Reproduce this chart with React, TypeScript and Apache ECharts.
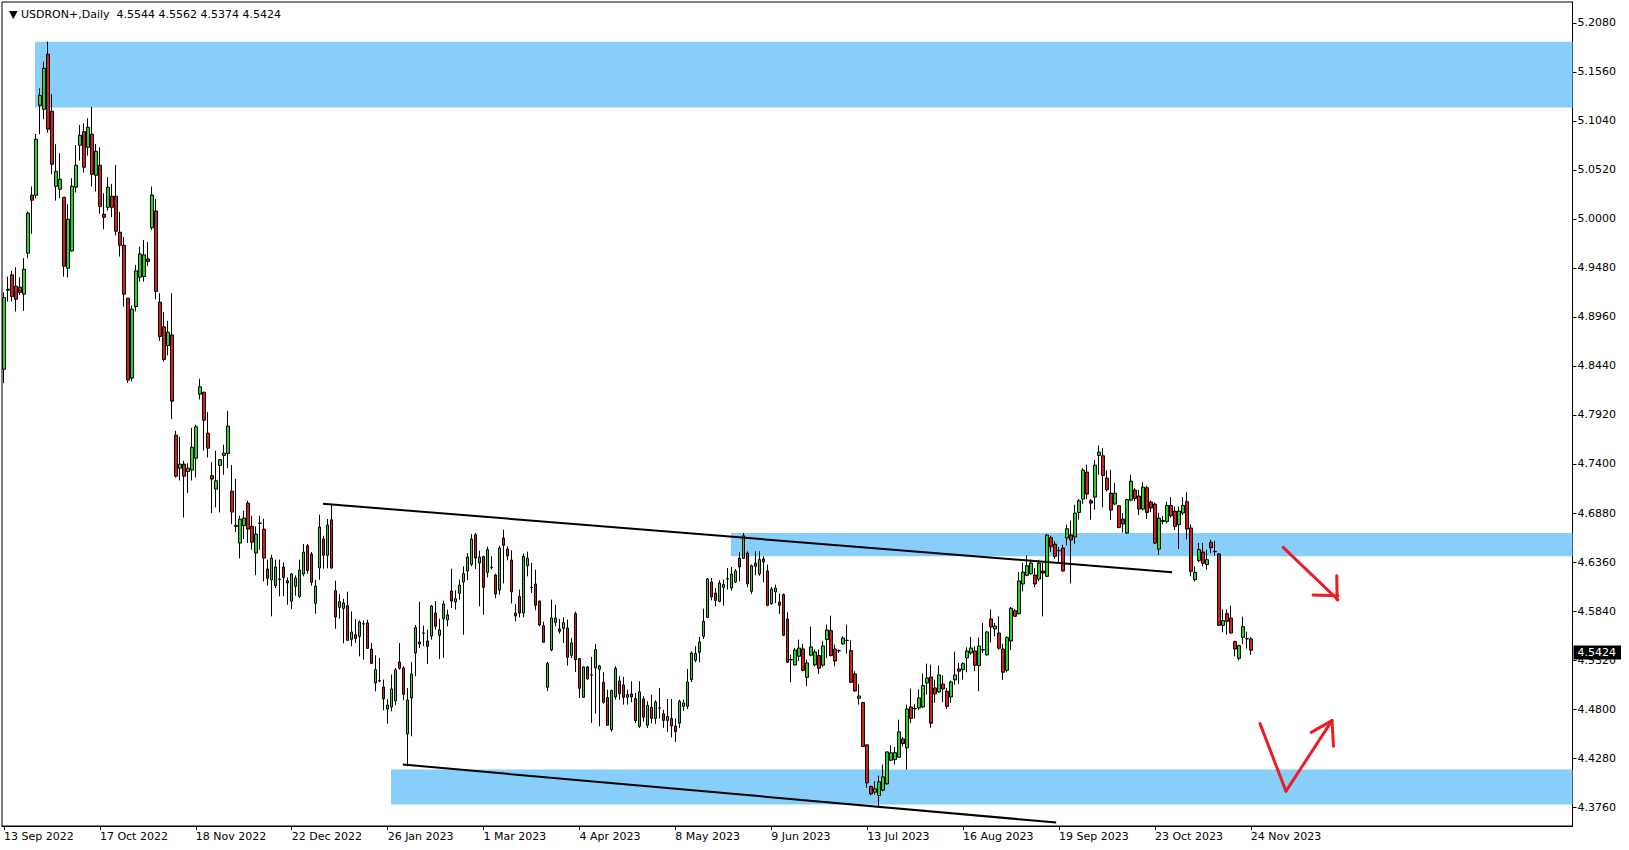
import React, { useEffect, useRef } from 'react';
import * as echarts from 'echarts';

// ---- text / labels ----
const symbolName = 'USDRON+';
const timeframe = 'Daily';
const xTickLabels = ['13 Sep 2022', '17 Oct 2022', '18 Nov 2022', '22 Dec 2022', '26 Jan 2023', '1 Mar 2023', '4 Apr 2023', '8 May 2023', '9 Jun 2023', '13 Jul 2023', '16 Aug 2023', '19 Sep 2023', '23 Oct 2023', '24 Nov 2023'];
const barsPerLabel = 24;
const yTickValues = [4.376, 4.428, 4.48, 4.532, 4.584, 4.636, 4.688, 4.74, 4.792, 4.844, 4.896, 4.948, 5.0, 5.052, 5.104, 5.156, 5.208];
const yMin = 4.3559;
const yMax = 5.2302;
const emptySlotsRight = 80;

// ---- daily candles [open, close, low, high], grouped by label period ----
const p13Sep2022 = [
  [4.8406, 4.9166, 4.8258, 4.9223], [4.9244, 4.9255, 4.9124, 4.9389], [4.9407, 4.9177, 4.9124, 4.9449], [4.9287, 4.9149, 4.9018, 4.9488],
  [4.9276, 4.9219, 4.9195, 4.9382], [4.9202, 4.9467, 4.9025, 4.9584], [4.9637, 5.0061, 4.9584, 5.0078], [5.0252, 5.0199, 4.9842, 5.0344],
  [5.0252, 5.0846, 5.022, 5.0902], [5.1206, 5.1312, 5.0899, 5.1386], [5.1164, 5.1598, 5.1058, 5.1669], [5.1747, 5.0952, 5.0916, 5.1881],
  [5.1142, 5.058, 5.0474, 5.1323], [5.0347, 5.0506, 5.0195, 5.0793], [5.0315, 5.0421, 5.022, 5.0697], [5.023, 4.9499, 4.9389, 5.023],
  [4.9477, 4.9997, 4.9379, 5.0156], [4.9661, 5.0347, 4.9654, 5.0432], [5.0337, 5.057, 5.028, 5.0785], [5.0782, 5.0888, 5.0619, 5.0998],
  [5.0927, 5.0549, 5.0492, 5.1015], [5.0761, 5.0973, 5.0672, 5.1068], [5.0899, 5.0474, 5.0344, 5.1188], [5.0464, 5.0718, 5.0291, 5.0796],
];
const p17Oct2022 = [
  [5.057, 5.0131, 5.0057, 5.0761], [5.005, 5.0018, 4.9891, 5.0273], [5.0124, 5.0337, 5.0089, 5.0443], [5.0241, 5.0124, 5.0018, 5.0372],
  [5.0241, 4.987, 4.9827, 5.0573], [4.9859, 4.9721, 4.9601, 5.0075], [4.9721, 4.9202, 4.9071, 4.981], [4.9159, 4.829, 4.8258, 4.9159],
  [4.8311, 4.9043, 4.8276, 4.9082], [4.9071, 4.9449, 4.9018, 4.9513], [4.9382, 4.9629, 4.9336, 4.9707], [4.9389, 4.9619, 4.9336, 4.9778],
  [4.9576, 4.9548, 4.9502, 4.9756], [4.9908, 5.0255, 4.9884, 5.0343], [5.0085, 4.923, 4.9148, 5.0213], [4.9117, 4.8753, 4.8707, 4.9212],
  [4.8855, 4.8509, 4.8487, 4.9011], [4.8657, 4.8799, 4.8551, 4.8919], [4.877, 4.8067, 4.7876, 4.9212], [4.7706, 4.7271, 4.7257, 4.7752],
  [4.7356, 4.7399, 4.7225, 4.7688], [4.7399, 4.7271, 4.6833, 4.7434], [4.7321, 4.7356, 4.7091, 4.7409], [4.7335, 4.7579, 4.7225, 4.7784],
];
const p18Nov2022 = [
  [4.7462, 4.7795, 4.7257, 4.7816], [4.8141, 4.8219, 4.8084, 4.8304], [4.8162, 4.7865, 4.7544, 4.8162], [4.7727, 4.7568, 4.7469, 4.795],
  [4.7275, 4.724, 4.6879, 4.742], [4.7134, 4.7222, 4.6939, 4.754], [4.7385, 4.7445, 4.6886, 4.7452], [4.7491, 4.7515, 4.7286, 4.7604],
  [4.7512, 4.7802, 4.7356, 4.7964], [4.7112, 4.689, 4.6762, 4.7388], [4.6748, 4.6738, 4.6678, 4.7243], [4.6561, 4.6815, 4.6398, 4.6851],
  [4.6745, 4.6826, 4.6603, 4.6904], [4.6985, 4.6709, 4.6561, 4.701], [4.6738, 4.6571, 4.649, 4.6851], [4.6455, 4.6656, 4.6221, 4.6738],
  [4.6773, 4.677, 4.649, 4.6851], [4.6709, 4.6402, 4.6154, 4.6819], [4.6286, 4.6187, 4.6109, 4.6385], [4.6169, 4.6402, 4.5784, 4.6438],
  [4.6109, 4.6307, 4.6084, 4.6385], [4.6176, 4.618, 4.5996, 4.6385], [4.6307, 4.6197, 4.5996, 4.6356], [4.6162, 4.6137, 4.5907, 4.6197],
];
const p22Dec2022 = [
  [4.5943, 4.6233, 4.5861, 4.6243], [4.6102, 4.619, 4.6003, 4.6218], [4.5996, 4.6275, 4.5978, 4.6385], [4.6233, 4.6466, 4.6208, 4.6551],
  [4.6533, 4.6271, 4.6236, 4.6551], [4.6445, 4.6144, 4.6109, 4.6466], [4.5922, 4.6105, 4.5812, 4.6172], [4.6296, 4.6731, 4.6172, 4.6862],
  [4.6604, 4.6431, 4.6289, 4.6639], [4.6431, 4.6752, 4.6293, 4.6816], [4.6809, 4.6296, 4.6289, 4.6978], [4.6056, 4.5777, 4.5653, 4.6162],
  [4.5879, 4.5939, 4.5759, 4.6021], [4.5868, 4.5925, 4.5497, 4.5971], [4.5897, 4.5529, 4.5529, 4.6045], [4.554, 4.5618, 4.5465, 4.5837],
  [4.5589, 4.555, 4.5501, 4.5755], [4.5572, 4.5724, 4.5359, 4.5741], [4.5702, 4.5705, 4.5324, 4.5738], [4.5713, 4.5444, 4.5437, 4.5748],
  [4.5437, 4.5285, 4.5278, 4.5501], [4.5077, 4.5218, 4.4988, 4.537], [4.5101, 4.5098, 4.5087, 4.5342], [4.5034, 4.4907, 4.4787, 4.5112],
];
const p26Jan2023 = [
  [4.4801, 4.4843, 4.4645, 4.4907], [4.4822, 4.5013, 4.4776, 4.5165], [4.4886, 4.5215, 4.484, 4.5236], [4.5299, 4.5232, 4.5218, 4.5501],
  [4.5236, 4.4957, 4.4893, 4.5253], [4.4536, 4.4896, 4.4193, 4.5024], [4.4918, 4.5172, 4.4511, 4.5299], [4.5395, 4.5664, 4.5147, 4.5692],
  [4.5512, 4.549, 4.5448, 4.5939], [4.5607, 4.5604, 4.5466, 4.5685], [4.5522, 4.5466, 4.5278, 4.5642], [4.5575, 4.5893, 4.5536, 4.5904],
  [4.5819, 4.5678, 4.5642, 4.5946], [4.5582, 4.5639, 4.5331, 4.5759], [4.5759, 4.5915, 4.5342, 4.595], [4.5745, 4.5798, 4.5678, 4.5854],
  [4.6052, 4.5946, 4.5872, 4.6289], [4.5936, 4.5971, 4.5854, 4.6059], [4.6028, 4.6116, 4.596, 4.6173], [4.6148, 4.6236, 4.5589, 4.6314],
  [4.6265, 4.6413, 4.6169, 4.6455], [4.6335, 4.6604, 4.6314, 4.6657], [4.665, 4.6402, 4.6286, 4.6667], [4.6349, 4.6413, 4.589, 4.648],
];
const p1Mar2023 = [
  [4.6417, 4.6091, 4.5801, 4.6427], [4.625, 4.6491, 4.6197, 4.6523], [4.6303, 4.63, 4.6279, 4.642], [4.6222, 4.6021, 4.5975, 4.6236],
  [4.6063, 4.6508, 4.6014, 4.6533], [4.6614, 4.6537, 4.6134, 4.6703], [4.6498, 4.6424, 4.6378, 4.6526], [4.6381, 4.6042, 4.592, 4.6484],
  [4.5819, 4.5787, 4.5731, 4.5915], [4.5993, 4.5819, 4.5773, 4.6067], [4.5819, 4.642, 4.5773, 4.645], [4.6321, 4.64, 4.6208, 4.647],
  [4.6092, 4.609, 4.6031, 4.635], [4.6127, 4.5901, 4.5848, 4.6279], [4.5947, 4.5692, 4.5678, 4.5947], [4.5685, 4.5508, 4.5508, 4.5727],
  [4.5031, 4.5282, 4.4989, 4.53], [4.5427, 4.5766, 4.5413, 4.5961], [4.572, 4.5766, 4.5678, 4.5908], [4.565, 4.5625, 4.56, 4.5756],
  [4.5657, 4.5717, 4.5501, 4.5773], [4.566, 4.5349, 4.5261, 4.5749], [4.537, 4.5501, 4.5342, 4.5554], [4.5812, 4.5324, 4.5194, 4.5834],
];
const p4Apr2023 = [
  [4.5335, 4.502, 4.4918, 4.5335], [4.4925, 4.5247, 4.4918, 4.5254], [4.5247, 4.5119, 4.5112, 4.5254], [4.5162, 4.516, 4.4653, 4.5353],
  [4.5236, 4.5431, 4.4752, 4.5491], [4.5222, 4.5257, 4.4617, 4.5268], [4.5081, 4.4872, 4.4858, 4.519], [4.4922, 4.4628, 4.4628, 4.5006],
  [4.4582, 4.4996, 4.456, 4.5006], [4.4929, 4.5229, 4.49, 4.5254], [4.5098, 4.4964, 4.49, 4.5148], [4.5056, 4.4925, 4.4847, 4.5141],
  [4.4925, 4.4953, 4.4847, 4.5006], [4.496, 4.4929, 4.4872, 4.5095], [4.4911, 4.4678, 4.4653, 4.4971], [4.4617, 4.4982, 4.46, 4.5095],
  [4.4907, 4.4713, 4.4667, 4.4936], [4.4628, 4.484, 4.46, 4.4883], [4.4819, 4.47, 4.465, 4.4953], [4.47, 4.4875, 4.464, 4.4893],
  [4.4812, 4.481, 4.47, 4.5024], [4.475, 4.468, 4.46, 4.479], [4.468, 4.472, 4.456, 4.4907], [4.47, 4.462, 4.45, 4.4907],
];
const p8May2023 = [
  [4.462, 4.456, 4.445, 4.47], [4.465, 4.4882, 4.46, 4.49], [4.4829, 4.4865, 4.478, 4.49], [4.4829, 4.5087, 4.48, 4.5225],
  [4.5112, 4.5395, 4.5087, 4.5413], [4.5317, 4.5388, 4.5296, 4.5466], [4.5402, 4.5512, 4.5296, 4.5565], [4.5572, 4.5731, 4.5543, 4.5865],
  [4.5773, 4.618, 4.5766, 4.619], [4.6148, 4.5989, 4.5953, 4.619], [4.6031, 4.5953, 4.589, 4.6084], [4.5943, 4.6137, 4.5932, 4.6166],
  [4.6091, 4.612, 4.5897, 4.6173], [4.6183, 4.618, 4.6067, 4.6296], [4.6084, 4.6233, 4.6056, 4.6307], [4.6148, 4.6265, 4.6137, 4.6286],
  [4.6402, 4.6307, 4.6155, 4.6466], [4.6399, 4.6639, 4.6392, 4.6668], [4.6455, 4.6127, 4.6091, 4.6473], [4.6049, 4.6321, 4.6021, 4.6332],
  [4.6349, 4.6314, 4.6219, 4.6473], [4.6233, 4.6385, 4.6215, 4.6473], [4.6392, 4.636, 4.6144, 4.642], [4.6265, 4.59, 4.589, 4.6332],
];
const p9Jun2023 = [
  [4.5918, 4.6074, 4.5908, 4.6095], [4.6042, 4.6084, 4.5925, 4.612], [4.5936, 4.5901, 4.5809, 4.6025], [4.6014, 4.5583, 4.5572, 4.6025],
  [4.5756, 4.5296, 4.5289, 4.5827], [4.5325, 4.5322, 4.5084, 4.5378], [4.5268, 4.5427, 4.5261, 4.5448], [4.536, 4.5448, 4.5307, 4.5537],
  [4.5438, 4.5211, 4.5201, 4.5491], [4.5137, 4.5289, 4.5042, 4.5325], [4.5371, 4.5459, 4.536, 4.5675], [4.5268, 4.5406, 4.5254, 4.5431],
  [4.5367, 4.5233, 4.5173, 4.5431], [4.5265, 4.547, 4.5247, 4.5519], [4.5537, 4.5639, 4.5342, 4.5696], [4.5632, 4.5367, 4.536, 4.5791],
  [4.5438, 4.531, 4.5254, 4.5484], [4.542, 4.5418, 4.5395, 4.5431], [4.5491, 4.5554, 4.5484, 4.5572], [4.553, 4.5527, 4.5388, 4.5696],
  [4.542, 4.5084, 4.5077, 4.553], [4.5173, 4.4992, 4.4985, 4.5201], [4.4915, 4.4939, 4.4847, 4.5067], [4.4869, 4.4402, 4.4398, 4.4869],
];
const p13Jul2023 = [
  [4.442, 4.4017, 4.3964, 4.442], [4.3978, 4.39, 4.3886, 4.3988], [4.3918, 4.3953, 4.3893, 4.4034], [4.3882, 4.4027, 4.3769, 4.4094],
  [4.3939, 4.408, 4.3928, 4.4211], [4.4006, 4.4345, 4.3999, 4.4352], [4.4257, 4.4335, 4.4246, 4.4416], [4.4264, 4.4338, 4.4211, 4.4398],
  [4.4289, 4.4558, 4.4282, 4.4688], [4.4483, 4.4434, 4.4405, 4.4504], [4.4388, 4.4801, 4.4158, 4.4847], [4.4822, 4.47, 4.465, 4.5017],
  [4.4805, 4.4803, 4.47, 4.485], [4.4812, 4.4918, 4.479, 4.5006], [4.4822, 4.5049, 4.4812, 4.5176], [4.5077, 4.513, 4.4953, 4.5282],
  [4.514, 4.465, 4.46, 4.5271], [4.5024, 4.496, 4.4865, 4.5112], [4.4981, 4.5162, 4.4971, 4.5261], [4.5066, 4.5013, 4.4872, 4.5158],
  [4.4988, 4.4829, 4.4801, 4.5024], [4.4928, 4.5087, 4.4865, 4.5102], [4.5109, 4.5162, 4.5059, 4.5409], [4.5225, 4.5201, 4.5066, 4.5289],
];
const p16Aug2023 = [
  [4.5218, 4.5282, 4.5112, 4.5296], [4.5342, 4.5416, 4.519, 4.5455], [4.5395, 4.5448, 4.5377, 4.5565], [4.5416, 4.5264, 4.5201, 4.5466],
  [4.5261, 4.5469, 4.4988, 4.5558], [4.5427, 4.543, 4.5395, 4.5713], [4.5374, 4.5618, 4.537, 4.5625], [4.5756, 4.5671, 4.5508, 4.5855],
  [4.565, 4.5681, 4.5572, 4.5713], [4.5607, 4.5445, 4.543, 4.5784], [4.5437, 4.519, 4.5109, 4.5494], [4.5211, 4.5558, 4.519, 4.5572],
  [4.5522, 4.5869, 4.5427, 4.5883], [4.5844, 4.5784, 4.5777, 4.5862], [4.5812, 4.6159, 4.5802, 4.6254], [4.6127, 4.6254, 4.6049, 4.6349],
  [4.6219, 4.6321, 4.6208, 4.6431], [4.6236, 4.6349, 4.6226, 4.6385], [4.6222, 4.6127, 4.6095, 4.6296], [4.6179, 4.6349, 4.6155, 4.6384],
  [4.6264, 4.6243, 4.5783, 4.6349], [4.6208, 4.6646, 4.6201, 4.6657], [4.6618, 4.6526, 4.6466, 4.6639], [4.655, 4.642, 4.6395, 4.6579],
];
const p19Sep2023 = [
  [4.6483, 4.648, 4.6349, 4.6519], [4.6508, 4.6264, 4.6261, 4.6543], [4.6614, 4.6713, 4.6536, 4.6756], [4.6646, 4.6593, 4.6133, 4.6801],
  [4.6625, 4.6879, 4.6554, 4.6968], [4.6886, 4.701, 4.6809, 4.7028], [4.7028, 4.7335, 4.6978, 4.7356], [4.7314, 4.7081, 4.7028, 4.7392],
  [4.701, 4.6985, 4.6809, 4.7028], [4.7049, 4.7388, 4.6915, 4.7445], [4.7491, 4.7526, 4.7286, 4.7597], [4.7487, 4.7279, 4.6939, 4.7569],
  [4.725, 4.7127, 4.7109, 4.7332], [4.7091, 4.6911, 4.6809, 4.7339], [4.6975, 4.7091, 4.6961, 4.7197], [4.6957, 4.6727, 4.6717, 4.6957],
  [4.6816, 4.6763, 4.6674, 4.6879], [4.6667, 4.7021, 4.666, 4.7031], [4.7017, 4.7219, 4.7003, 4.7286], [4.7123, 4.7035, 4.7003, 4.7144],
  [4.706, 4.6922, 4.6858, 4.7127], [4.6922, 4.7155, 4.6908, 4.7208], [4.7148, 4.6886, 4.6816, 4.7169], [4.6996, 4.6932, 4.689, 4.7014],
];
const p23Oct2023 = [
  [4.6975, 4.6561, 4.6551, 4.6992], [4.6497, 4.6826, 4.6438, 4.688], [4.68, 4.679, 4.676, 4.685], [4.679, 4.696, 4.677, 4.7],
  [4.696, 4.685, 4.683, 4.705], [4.69, 4.6738, 4.67, 4.695], [4.6756, 4.69, 4.6498, 4.695], [4.688, 4.696, 4.686, 4.705],
  [4.7, 4.671, 4.66, 4.71], [4.6721, 4.6261, 4.6208, 4.6756], [4.6173, 4.625, 4.6155, 4.6314], [4.6374, 4.6491, 4.636, 4.6562],
  [4.6466, 4.6346, 4.6314, 4.6562], [4.6332, 4.6385, 4.6279, 4.6491], [4.6569, 4.6512, 4.6455, 4.6597], [4.6473, 4.647, 4.6427, 4.6586],
  [4.6445, 4.5688, 4.5685, 4.6455], [4.5688, 4.5738, 4.5614, 4.5855], [4.5812, 4.5731, 4.5589, 4.5855], [4.5766, 4.5607, 4.56, 4.5897],
  [4.5515, 4.5437, 4.536, 4.5526], [4.5338, 4.5473, 4.5317, 4.5483], [4.5561, 4.5674, 4.549, 4.578], [4.5547, 4.5544, 4.5441, 4.5621],
];
const p24Nov2023 = [
  [4.5544, 4.5424, 4.5374, 4.5562],
];

// ---- drawn objects, in (bar index, price) ----
// zones: [startBar, endBar, topPrice, bottomPrice]
const zones = [
  [7.76, 392.5, 5.1881, 5.1183],
  [181.9, 392.5, 4.6668, 4.6421],
  [96.85, 392.5, 4.4158, 4.3787],
];
// trend lines: [bar0, price0, bar1, price1]
const trendLines = [
  [79.8, 4.6978, 292.3, 4.6252],
  [99.8, 4.4211, 263.3, 4.3596],
];
// hand-drawn red arrows: [bar0, price0, bar1, price1]
const arrowSegments = [
  [320.1, 4.6515, 333.8, 4.596],
  [327.6, 4.601, 333.8, 4.6003],
  [333.5, 4.6215, 333.6, 4.596],
  [314.3, 4.4645, 320.8, 4.3928],
  [320.8, 4.3928, 332.3, 4.4677],
  [327.1, 4.4553, 332.3, 4.4677],
  [332.3, 4.4677, 332.7, 4.4405],
];

const candles = [
  ...p13Sep2022, ...p17Oct2022, ...p18Nov2022, ...p22Dec2022, ...p26Jan2023, ...p1Mar2023, ...p4Apr2023,
  ...p8May2023, ...p9Jun2023, ...p13Jul2023, ...p16Aug2023, ...p19Sep2023, ...p23Oct2023, ...p24Nov2023,
];

const FONT = 'DejaVu Sans';

function toPixel(api: any, barIdx: number, price: number) {
  const a = api.coord([0, price]);
  const b = api.coord([1, price]);
  return [a[0] + (b[0] - a[0]) * barIdx, a[1]];
}

export default function App() {
  const ref = useRef<HTMLDivElement>(null);

  useEffect(() => {
    if (!ref.current) return;
    const chart = echarts.init(ref.current, undefined, { renderer: 'svg' });
    const total = candles.length + emptySlotsRight;
    const cats = Array.from({ length: total }, (_, i) => String(i));
    const last = candles[candles.length - 1];
    const lastClose = last[1];
    const showLabel = (i: number) => i % barsPerLabel === 0 && i / barsPerLabel < xTickLabels.length;

    chart.setOption({
      animation: false,
      backgroundColor: '#ffffff',
      title: {
        text: `\u25BC ${symbolName},${timeframe}  ${last[0].toFixed(4)} ${last[3].toFixed(4)} ${last[2].toFixed(4)} ${last[1].toFixed(4)}`,
        left: 4,
        top: 4,
        textStyle: { fontSize: 11, fontWeight: 'normal', fontFamily: FONT, color: '#000' },
      },
      grid: {
        left: 2,
        top: 2,
        width: 1570.5,
        height: 824,
        show: true,
        borderColor: '#000',
        borderWidth: 1,
        backgroundColor: '#fff',
      },
      xAxis: {
        type: 'category',
        data: cats,
        boundaryGap: true,
        axisLine: { show: true, lineStyle: { color: '#000', width: 1 } },
        axisTick: { show: true, alignWithLabel: true, interval: (i: number) => showLabel(i), length: 4, lineStyle: { color: '#000' } },
        axisLabel: {
          interval: (i: number) => showLabel(i),
          formatter: (_v: string, i: number) => xTickLabels[i / barsPerLabel] ?? '',
          align: 'left',
          margin: 5,
          color: '#000',
          fontSize: 11,
          fontFamily: FONT,
        },
        splitLine: { show: false },
      },
      yAxis: {
        type: 'value',
        position: 'right',
        min: yMin,
        max: yMax,
        scale: true,
        axisLine: { show: true, lineStyle: { color: '#000', width: 1 } },
        axisTick: { show: true, length: 4, customValues: yTickValues, lineStyle: { color: '#000' } },
        axisLabel: {
          customValues: yTickValues,
          formatter: (v: number) => v.toFixed(4),
          margin: 5,
          color: '#000',
          fontSize: 11,
          fontFamily: FONT,
        },
        splitLine: { show: false },
      },
      series: [
        {
          type: 'custom',
          name: 'zones',
          z: 1,
          clip: true,
          silent: true,
          data: zones.map((z) => [0, z[2]]),
          encode: { x: 0, y: 1 },
          renderItem: (params: any, api: any) => {
            const z = zones[params.dataIndex];
            const p0 = toPixel(api, z[0], z[2]);
            const p1 = toPixel(api, z[1], z[3]);
            return {
              type: 'rect',
              shape: { x: p0[0], y: p0[1], width: p1[0] - p0[0], height: p1[1] - p0[1] },
              style: { fill: '#87CEFA' },
            };
          },
        },
        {
          type: 'candlestick',
          name: 'price',
          z: 2,
          barWidth: 3,
          data: candles,
          itemStyle: {
            color: '#1DDC1D',
            color0: '#DD1A1A',
            borderColor: '#000',
            borderColor0: '#000',
            borderWidth: 1,
          },
          markLine: {
            silent: true,
            symbol: ['none', 'none'],
            data: [{ yAxis: lastClose }],
            lineStyle: { color: 'transparent', width: 0 },
            label: {
              show: true,
              position: 'end',
              distance: 1,
              formatter: lastClose.toFixed(4),
              backgroundColor: '#000',
              color: '#fff',
              padding: [2, 5, 1, 4],
              fontSize: 11,
              fontFamily: FONT,
            },
            z: 20,
          },
        },
        {
          type: 'custom',
          name: 'trendlines',
          z: 3,
          clip: true,
          silent: true,
          data: trendLines.map((l) => [0, l[1]]),
          encode: { x: 0, y: 1 },
          renderItem: (params: any, api: any) => {
            const l = trendLines[params.dataIndex];
            const a = toPixel(api, l[0], l[1]);
            const b = toPixel(api, l[2], l[3]);
            return {
              type: 'line',
              shape: { x1: a[0], y1: a[1], x2: b[0], y2: b[1] },
              style: { stroke: '#000', lineWidth: 2 },
            };
          },
        },
        {
          type: 'custom',
          name: 'arrows',
          z: 4,
          clip: true,
          silent: true,
          data: arrowSegments.map((l) => [0, l[1]]),
          encode: { x: 0, y: 1 },
          renderItem: (params: any, api: any) => {
            const l = arrowSegments[params.dataIndex];
            const a = toPixel(api, l[0], l[1]);
            const b = toPixel(api, l[2], l[3]);
            return {
              type: 'line',
              shape: { x1: a[0], y1: a[1], x2: b[0], y2: b[1] },
              style: { stroke: '#ED1C24', lineWidth: 3, lineCap: 'round' },
            };
          },
        },
      ],
    });
    return () => chart.dispose();
  }, []);

  return (
    <div
      ref={ref}
      style={{ position: 'absolute', left: 0, top: 0, width: 1629, height: 850, background: '#fff' }}
    />
  );
}
